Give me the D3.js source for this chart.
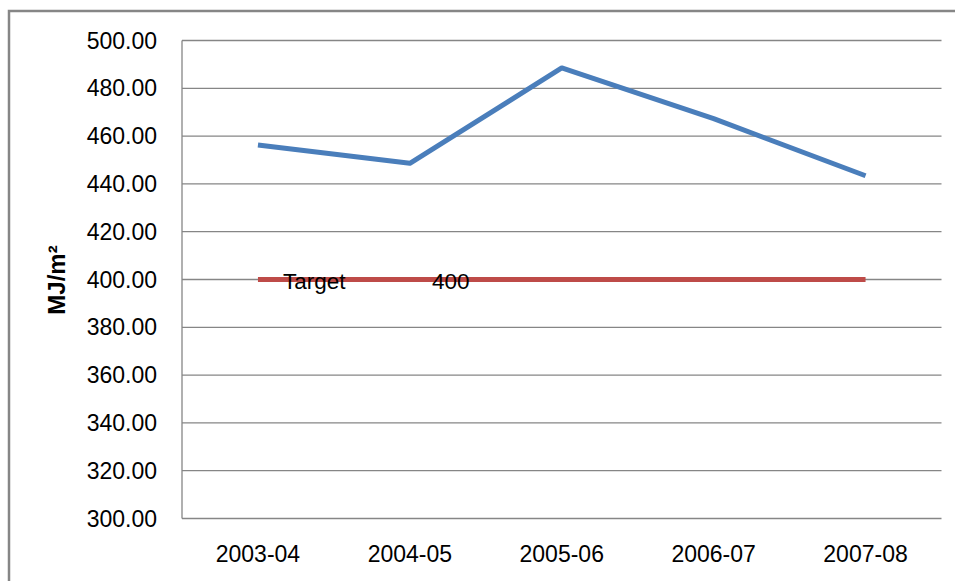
<!DOCTYPE html>
<html><head><meta charset="utf-8">
<script src="https://cdn.jsdelivr.net/npm/d3@7"></script>
<style>body{margin:0;background:#fff}svg{display:block}</style>
</head><body>
<svg id="c" width="955" height="581"></svg>
<script>
const categories = ["2003-04","2004-05","2005-06","2006-07","2007-08"];
const actual = [456.3, 448.6, 488.5, 467.3, 443.4];
const target = [400, 400, 400, 400, 400];
const yTicks = [300,320,340,360,380,400,420,440,460,480,500];
const targetLabel = "Target";
const targetValue = "400";

const svg = d3.select("#c");
const font = "'Liberation Sans', Arial, sans-serif";
const L = 182, R = 941.5, T = 40.5, B = 518.5;

svg.append("rect").attr("x",9).attr("y",11).attr("width",980).attr("height",620)
  .attr("fill","none").attr("stroke","#868686").attr("stroke-width",2.5);

const x = d3.scaleBand().domain(categories).range([L,R]);
const y = d3.scaleLinear().domain([300,500]).range([B,T]);

// gridlines
svg.append("g").selectAll("line").data(yTicks).join("line")
  .attr("x1",L).attr("x2",R).attr("y1",d=>y(d)).attr("y2",d=>y(d))
  .attr("stroke","#868686").attr("stroke-width",1.3);
// left axis line
svg.append("line").attr("x1",L).attr("x2",L).attr("y1",T).attr("y2",B)
  .attr("stroke","#868686").attr("stroke-width",1.3);

// y tick labels
svg.append("g").selectAll("text").data(yTicks).join("text")
  .attr("x",157).attr("y",d=>y(d)+8).attr("text-anchor","end")
  .attr("font-family",font).attr("font-size",23).attr("fill","#000")
  .text(d=>d3.format(".2f")(d));

// x labels
svg.append("g").selectAll("text").data(categories).join("text")
  .attr("x",d=>x(d)+x.bandwidth()/2).attr("y",562).attr("text-anchor","middle")
  .attr("font-family",font).attr("font-size",23).attr("fill","#000")
  .text(d=>d);

// y title
svg.append("text").attr("transform","translate(65,280) rotate(-90)")
  .attr("text-anchor","middle").attr("font-family",font).attr("font-weight","bold")
  .attr("font-size",24).attr("fill","#000").text("MJ/m²");

const line = d3.line().x((d,i)=>x(categories[i])+x.bandwidth()/2).y(d=>y(d));

svg.append("path").datum(target).attr("d",line).attr("fill","none")
  .attr("stroke","#BE4B48").attr("stroke-width",5);
svg.append("path").datum(actual).attr("d",line).attr("fill","none")
  .attr("stroke","#4A7EBB").attr("stroke-width",5).attr("stroke-linejoin","round");

// target label
svg.append("text").attr("x",283).attr("y",y(400)+9).attr("font-family",font)
  .attr("font-size",22.5).attr("fill","#000").text(targetLabel);
svg.append("text").attr("x",432).attr("y",y(400)+9).attr("font-family",font)
  .attr("font-size",22.5).attr("fill","#000").text(targetValue);
</script>
</body></html>
